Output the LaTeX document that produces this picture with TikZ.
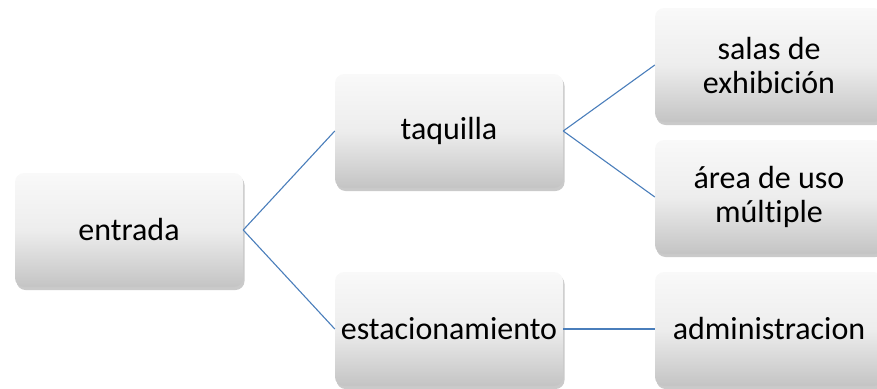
\documentclass[tikz,border=0pt]{standalone}
\usepackage{fontspec}
\setmainfont{Carlito}[Ligatures=NoCommon]
\usetikzlibrary{shadows}
\definecolor{linkblue}{HTML}{4A7EBB}
\definecolor{boxtop}{HTML}{F9F9F9}
\definecolor{boxmid}{HTML}{EDEDED}
\definecolor{boxbot}{HTML}{C4C4C4}
\tikzset{
  card/.style={rectangle, rounded corners=9pt, minimum width=228pt, minimum height=114pt,
    inner sep=2pt, align=center, top color=boxtop, bottom color=boxbot, middle color=boxmid,
    font=\fontsize{32}{34}\selectfont,
    drop shadow={shadow xshift=1.5pt, shadow yshift=-3pt, opacity=0.35, fill=black!60}},
  link/.style={draw=linkblue, line width=1.1pt}
}
\begin{document}
\begin{tikzpicture}[x=1pt,y=-1pt]
\useasboundingbox (0,0) rectangle (877,388);
\node[card] (entrada) at (129,230) {entrada};
\node[card] (taquilla) at (449,131) {taquilla};
\node[card] (estac) at (449,329) {estacionamiento};
\node[card] (salas) at (769,65) {salas de\\exhibición};
\node[card] (area) at (769,197) {área de uso\\múltiple};
\node[card] (admin) at (769,329) {administracion};
\draw[link] (entrada.east) -- (taquilla.west);
\draw[link] (entrada.east) -- (estac.west);
\draw[link] (taquilla.east) -- (salas.west);
\draw[link] (taquilla.east) -- (area.west);
\draw[link] (estac.east) -- (admin.west);
\end{tikzpicture}
\end{document}
